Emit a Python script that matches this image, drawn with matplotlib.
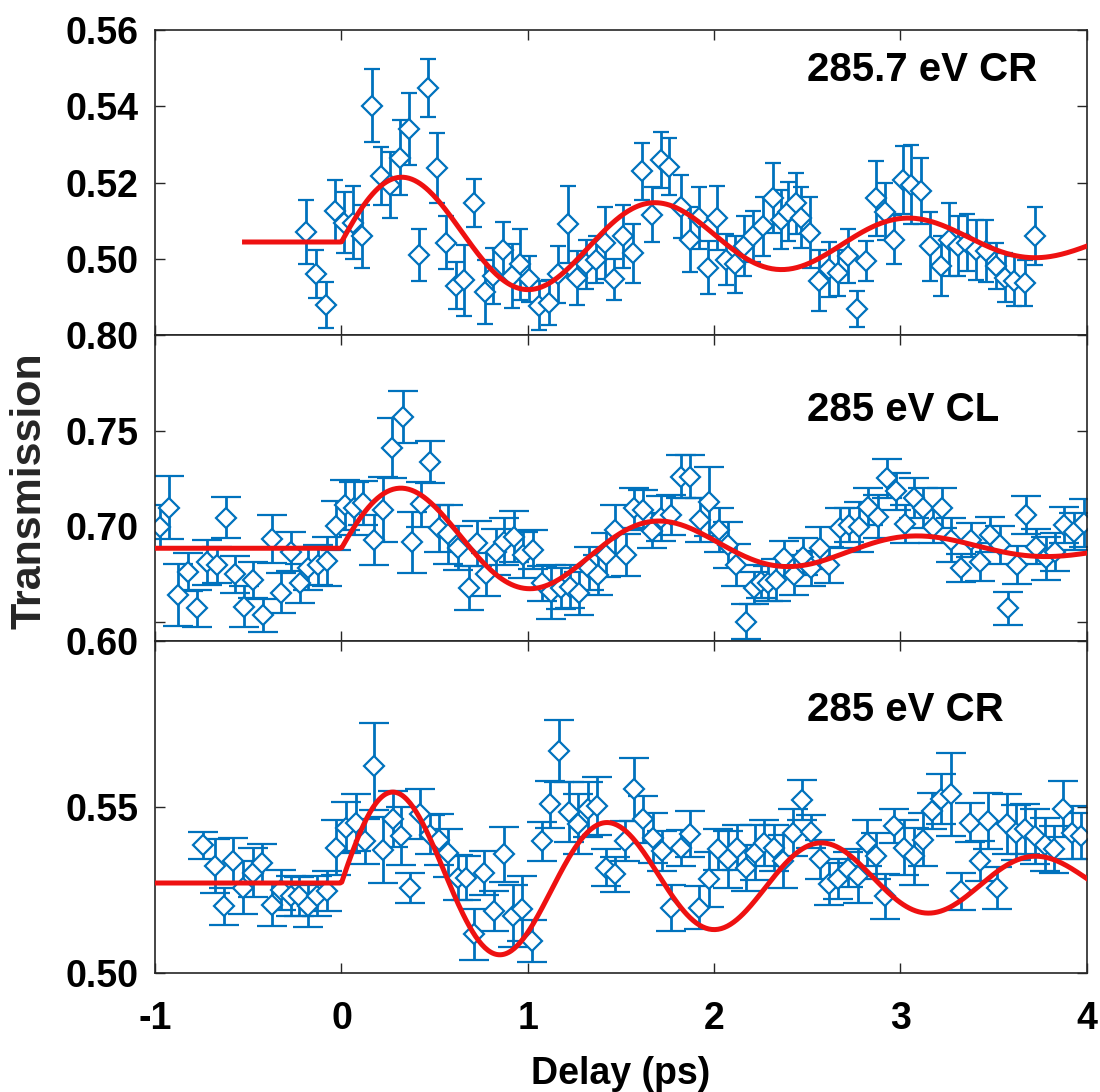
import numpy as np
import matplotlib.pyplot as plt

plt.rcParams['font.family'] = ['Liberation Sans', 'DejaVu Sans']
plt.rcParams['font.weight'] = 'bold'
plt.rcParams['axes.unicode_minus'] = False

# ---- 285.7 eV CR (top) ----
t_a = [-0.19, -0.134, -0.084, -0.034, 0.014, 0.0625, 0.1125, 0.166, 0.214, 0.2625,
       0.3125, 0.3625, 0.416, 0.464, 0.5125, 0.5625, 0.6125, 0.66, 0.714, 0.768,
       0.8125, 0.866, 0.916, 0.96, 1.009, 1.0625, 1.1125, 1.16, 1.214, 1.264,
       1.3125, 1.366, 1.416, 1.464, 1.5125, 1.566, 1.615, 1.668, 1.713, 1.758,
       1.82, 1.871, 1.919, 1.968, 2.018, 2.063, 2.111, 2.161, 2.211, 2.26,
       2.314, 2.358, 2.394, 2.439, 2.466, 2.516, 2.565, 2.618, 2.663, 2.717,
       2.767, 2.815, 2.869, 2.918, 2.968, 3.013, 3.057, 3.108, 3.161, 3.215,
       3.263, 3.308, 3.358, 3.407, 3.457, 3.514, 3.563, 3.609, 3.667, 3.72]
y_a = [0.507, 0.4961, 0.4879, 0.5126, 0.5094, 0.5095, 0.5059, 0.5402, 0.5216, 0.5194,
       0.5265, 0.5341, 0.5009, 0.5449, 0.5237, 0.5042, 0.4929, 0.4944, 0.5146, 0.4913,
       0.4955, 0.5024, 0.4955, 0.4985, 0.4946, 0.4877, 0.4885, 0.4959, 0.509, 0.495,
       0.4985, 0.4998, 0.5042, 0.4946, 0.5059, 0.5014, 0.5229, 0.5116, 0.5259, 0.5242,
       0.5137, 0.505, 0.5107, 0.4977, 0.5107, 0.4998, 0.4985, 0.5033, 0.5059, 0.5085,
       0.5159, 0.5103, 0.5124, 0.5146, 0.5107, 0.5068, 0.4942, 0.4972, 0.4963, 0.5007,
       0.4868, 0.4994, 0.5159, 0.5124, 0.505, 0.5207, 0.5194, 0.5177, 0.5033, 0.4981,
       0.505, 0.5033, 0.5042, 0.5023, 0.502, 0.4981, 0.495, 0.4942, 0.4937, 0.5059]
e_a = [0.0083, 0.0063, 0.0061, 0.0081, 0.008, 0.0095, 0.0082, 0.0095, 0.0076, 0.0086,
       0.0098, 0.0095, 0.0068, 0.0076, 0.0092, 0.007, 0.0062, 0.0093, 0.0063, 0.0085,
       0.0074, 0.0073, 0.0085, 0.0093, 0.006, 0.0065, 0.0059, 0.0074, 0.01, 0.0071,
       0.0063, 0.0061, 0.0095, 0.0054, 0.0083, 0.0078, 0.0074, 0.0073, 0.0074, 0.0075,
       0.0083, 0.0085, 0.0082, 0.007, 0.0084, 0.0067, 0.0074, 0.0078, 0.0067, 0.0078,
       0.0092, 0.0078, 0.0078, 0.008, 0.008, 0.0093, 0.008, 0.0072, 0.0061, 0.007,
       0.0048, 0.0052, 0.0098, 0.0074, 0.0065, 0.0089, 0.0104, 0.0087, 0.0091, 0.0078,
       0.0096, 0.0078, 0.0075, 0.0078, 0.0081, 0.006, 0.0064, 0.0065, 0.0061, 0.0076]

# ---- 285 eV CL (middle) ----
t_b = [-0.973, -0.923, -0.875, -0.825, -0.773, -0.72, -0.67, -0.62, -0.571, -0.521,
       -0.473, -0.423, -0.373, -0.325, -0.273, -0.223, -0.179, -0.125, -0.077, -0.03,
       0.018, 0.066, 0.116, 0.173, 0.223, 0.273, 0.33, 0.38, 0.429, 0.477,
       0.523, 0.571, 0.625, 0.684, 0.729, 0.777, 0.827, 0.875, 0.925, 0.973,
       1.027, 1.077, 1.125, 1.179, 1.227, 1.277, 1.327, 1.375, 1.42, 1.47,
       1.525, 1.57, 1.62, 1.668, 1.713, 1.767, 1.821, 1.871, 1.925, 1.973,
       2.027, 2.072, 2.116, 2.17, 2.215, 2.251, 2.287, 2.332, 2.376, 2.43,
       2.475, 2.52, 2.57, 2.618, 2.677, 2.726, 2.78, 2.824, 2.878, 2.928,
       2.977, 3.022, 3.072, 3.12, 3.174, 3.224, 3.272, 3.326, 3.376, 3.425,
       3.479, 3.532, 3.577, 3.627, 3.676, 3.726, 3.779, 3.828, 3.878, 3.932, 3.986]
y_b = [0.6998, 0.7098, 0.664, 0.6759, 0.657, 0.6811, 0.6797, 0.7045, 0.6748, 0.6579,
       0.6719, 0.6535, 0.6934, 0.6649, 0.6867, 0.6701, 0.678, 0.6797, 0.6818, 0.7003,
       0.7112, 0.7094, 0.7121, 0.6928, 0.7086, 0.7409, 0.757, 0.6916, 0.7115, 0.7336,
       0.699, 0.6958, 0.6885, 0.6678, 0.6911, 0.6748, 0.6867, 0.692, 0.6946, 0.685,
       0.6876, 0.6701, 0.6657, 0.6675, 0.6684, 0.6649, 0.678, 0.6745, 0.685, 0.6981,
       0.685, 0.7094, 0.7086, 0.6976, 0.7042, 0.706, 0.726, 0.726, 0.7033, 0.7129,
       0.6981, 0.6902, 0.6797, 0.65, 0.6675, 0.671, 0.6701, 0.6719, 0.6832, 0.6745,
       0.6841, 0.678, 0.6885, 0.6797, 0.6993, 0.7007, 0.6998, 0.7103, 0.7051, 0.7252,
       0.7182, 0.701, 0.7147, 0.7094, 0.6998, 0.7094, 0.6928, 0.678, 0.6928, 0.6815,
       0.6955, 0.6902, 0.657, 0.6797, 0.706, 0.6893, 0.6832, 0.6867, 0.7007, 0.6972, 0.7016]
e_b = [0.0114, 0.0163, 0.0161, 0.01, 0.0096, 0.0116, 0.0095, 0.0108, 0.0096, 0.0107,
       0.0096, 0.0087, 0.0127, 0.0105, 0.0102, 0.01, 0.0114, 0.0105, 0.0128, 0.0127,
       0.0131, 0.014, 0.0114, 0.013, 0.017, 0.0157, 0.0137, 0.0161, 0.0118, 0.0112,
       0.0122, 0.0153, 0.0114, 0.0114, 0.0118, 0.0114, 0.012, 0.0124, 0.0135, 0.0118,
       0.0102, 0.0092, 0.014, 0.0109, 0.0114, 0.0114, 0.0114, 0.0105, 0.0114, 0.013,
       0.011, 0.0105, 0.0105, 0.0092, 0.0118, 0.0105, 0.0114, 0.0114, 0.0114, 0.018,
       0.0114, 0.0118, 0.011, 0.0092, 0.0084, 0.0087, 0.0092, 0.011, 0.009, 0.0105,
       0.0096, 0.0092, 0.011, 0.0092, 0.0105, 0.0087, 0.013, 0.0096, 0.011, 0.0102,
       0.0096, 0.01, 0.0105, 0.0105, 0.0087, 0.0105, 0.0114, 0.0074, 0.0087, 0.01,
       0.0092, 0.01, 0.0087, 0.01, 0.01, 0.0092, 0.0114, 0.01, 0.0092, 0.0096, 0.0127]

# ---- 285 eV CR (bottom) ----
t_c = [-0.741, -0.679, -0.63, -0.58, -0.527, -0.477, -0.429, -0.375, -0.325, -0.273,
       -0.227, -0.179, -0.129, -0.08, -0.03, 0.023, 0.077, 0.125, 0.173, 0.223,
       0.277, 0.321, 0.37, 0.42, 0.473, 0.523, 0.571, 0.625, 0.67, 0.714,
       0.764, 0.818, 0.87, 0.92, 0.97, 1.023, 1.077, 1.121, 1.17, 1.22,
       1.268, 1.321, 1.371, 1.42, 1.47, 1.52, 1.57, 1.62, 1.674, 1.722,
       1.771, 1.821, 1.871, 1.919, 1.973, 2.022, 2.072, 2.122, 2.17, 2.22,
       2.269, 2.319, 2.367, 2.421, 2.47, 2.52, 2.57, 2.618, 2.667, 2.717,
       2.771, 2.821, 2.869, 2.918, 2.968, 3.018, 3.072, 3.12, 3.168, 3.219,
       3.272, 3.326, 3.371, 3.425, 3.47, 3.52, 3.573, 3.622, 3.67, 3.72,
       3.774, 3.824, 3.873, 3.921, 3.971]
y_c = [0.5384, 0.5322, 0.5201, 0.5337, 0.5257, 0.5302, 0.533, 0.5206, 0.525, 0.5231,
       0.5231, 0.5201, 0.5231, 0.5246, 0.5377, 0.5438, 0.5453, 0.5397, 0.5622, 0.537,
       0.5463, 0.5412, 0.5257, 0.5478, 0.5417, 0.5402, 0.5362, 0.5287, 0.5287, 0.5116,
       0.5302, 0.5186, 0.5357, 0.5171, 0.5193, 0.5096, 0.5397, 0.5508, 0.5669, 0.5485,
       0.5448, 0.5493, 0.5503, 0.5317, 0.5297, 0.5397, 0.5553, 0.5463, 0.5407, 0.5367,
       0.5196, 0.5377, 0.5418, 0.5196, 0.5282, 0.5372, 0.5342, 0.5377, 0.5317, 0.5362,
       0.5392, 0.5377, 0.5337, 0.5423, 0.552, 0.5425, 0.5342, 0.5267, 0.5282, 0.5312,
       0.5292, 0.5392, 0.5352, 0.5231, 0.5443, 0.5377, 0.5352, 0.5402, 0.5488, 0.5523,
       0.5538, 0.5246, 0.5453, 0.5337, 0.5458, 0.5257, 0.5448, 0.5423, 0.5433, 0.5412,
       0.5387, 0.5372, 0.5493, 0.5423, 0.5412]
e_c = [0.0041, 0.0082, 0.0055, 0.0069, 0.0079, 0.0073, 0.0058, 0.0066, 0.0059, 0.006,
       0.0058, 0.0064, 0.006, 0.006, 0.0083, 0.0076, 0.0085, 0.0068, 0.013, 0.01,
       0.0085, 0.0088, 0.0045, 0.0075, 0.006, 0.0078, 0.0072, 0.0068, 0.0066, 0.0077,
       0.0066, 0.006, 0.0083, 0.0093, 0.0098, 0.0064, 0.0059, 0.007, 0.0093, 0.009,
       0.009, 0.0083, 0.0087, 0.0055, 0.0053, 0.006, 0.0096, 0.0071, 0.0075, 0.006,
       0.007, 0.0055, 0.007, 0.0065, 0.0083, 0.0063, 0.0086, 0.0068, 0.007, 0.0083,
       0.007, 0.007, 0.008, 0.007, 0.006, 0.005, 0.0058, 0.0063, 0.006, 0.0053,
       0.008, 0.007, 0.007, 0.0068, 0.005, 0.0083, 0.0086, 0.008, 0.0053, 0.0075,
       0.0126, 0.0055, 0.0058, 0.006, 0.0085, 0.0063, 0.009, 0.0083, 0.0075, 0.0083,
       0.008, 0.007, 0.0084, 0.008, 0.007]

# fit parameters: baseline, offset step, amplitude, decay time, period, curve start
fit_a = [0.5044, 0.0004, 0.0190, 2.6, 1.36, -0.52]
fit_b = [0.6885, 0.0000, 0.0380, 1.75, 1.385, -1.0]
fit_c = [0.5271, 0.0004, 0.0301, 2.73, 1.15, -1.0]

labels = ['285.7 eV CR', '285 eV CL', '285 eV CR']
ylims = [(0.48, 0.56), (0.64, 0.80), (0.50, 0.60)]
yticks = [[0.50, 0.52, 0.54, 0.56], [0.65, 0.70, 0.75, 0.80], [0.50, 0.55, 0.60]]
yticklabels = [['0.50', '0.52', '0.54', '0.56'], ['', '0.70', '0.75', '0.80'],
               ['0.50', '0.55', '0.60']]


def fit_curve(p):
    y0, step, amp, tau, period, t0 = p
    t = np.linspace(t0, 4.0, 600)
    tp = np.clip(t, 0, None)
    y = y0 + step * (1 - np.exp(-tp / 0.3)) + amp * np.exp(-tp / tau) * np.sin(2 * np.pi * tp / period)
    return t, y


blue = '#0072BD'
spine = '#262626'

fig = plt.figure(figsize=(11, 10.92), dpi=100)
# axes boxes in figure fraction (left, bottom, width, height)
boxes = [[0.141, 0.6932, 0.847, 0.2793],
         [0.141, 0.4130, 0.847, 0.2802],
         [0.141, 0.1090, 0.847, 0.3040]]
label_y = [0.869, 0.755, 0.792]
caps = [6.0, 10.5, 10.5]
data = [(t_a, y_a, e_a, fit_a), (t_b, y_b, e_b, fit_b), (t_c, y_c, e_c, fit_c)]

for i, (t, y, e, p) in enumerate(data):
    ax = fig.add_axes(boxes[i])
    ax.errorbar(t, y, yerr=e, fmt='D', color=blue, mfc='white', mec=blue,
                ms=10, mew=1.6, elinewidth=2.0, capsize=caps[i], capthick=2.0,
                zorder=2)
    tf, yf = fit_curve(p)
    ax.plot(tf, yf, color='#EE1111', lw=3.6, zorder=3)
    ax.set_xlim(-1, 4)
    ax.set_ylim(*ylims[i])
    ax.set_xticks([-1, 0, 1, 2, 3, 4])
    ax.set_yticks(yticks[i])
    ax.set_yticklabels(yticklabels[i])
    ax.tick_params(direction='in', top=True, right=True, length=7.5, width=1.0,
                   color=spine, labelsize=27, pad=12)
    ax.tick_params(axis='x', pad=20)
    if i < 2:
        ax.tick_params(axis='x', labelbottom=False)
    for s in ax.spines.values():
        s.set_color(spine)
        s.set_linewidth(1.2)
    for lab in ax.get_xticklabels() + ax.get_yticklabels():
        lab.set_fontweight('bold')
    ax.text(0.70, label_y[i], labels[i], transform=ax.transAxes, fontsize=29,
            fontweight='bold', ha='left', va='center', color='black')
    if i == 2:
        ax.set_xlabel('Delay (ps)', fontsize=27, fontweight='bold', labelpad=14)

fig.text(0.027, 0.551, 'Transmission', rotation=90, fontsize=31,
         fontweight='bold', ha='center', va='center', color=spine)

fig.savefig('out.png', dpi=100)
